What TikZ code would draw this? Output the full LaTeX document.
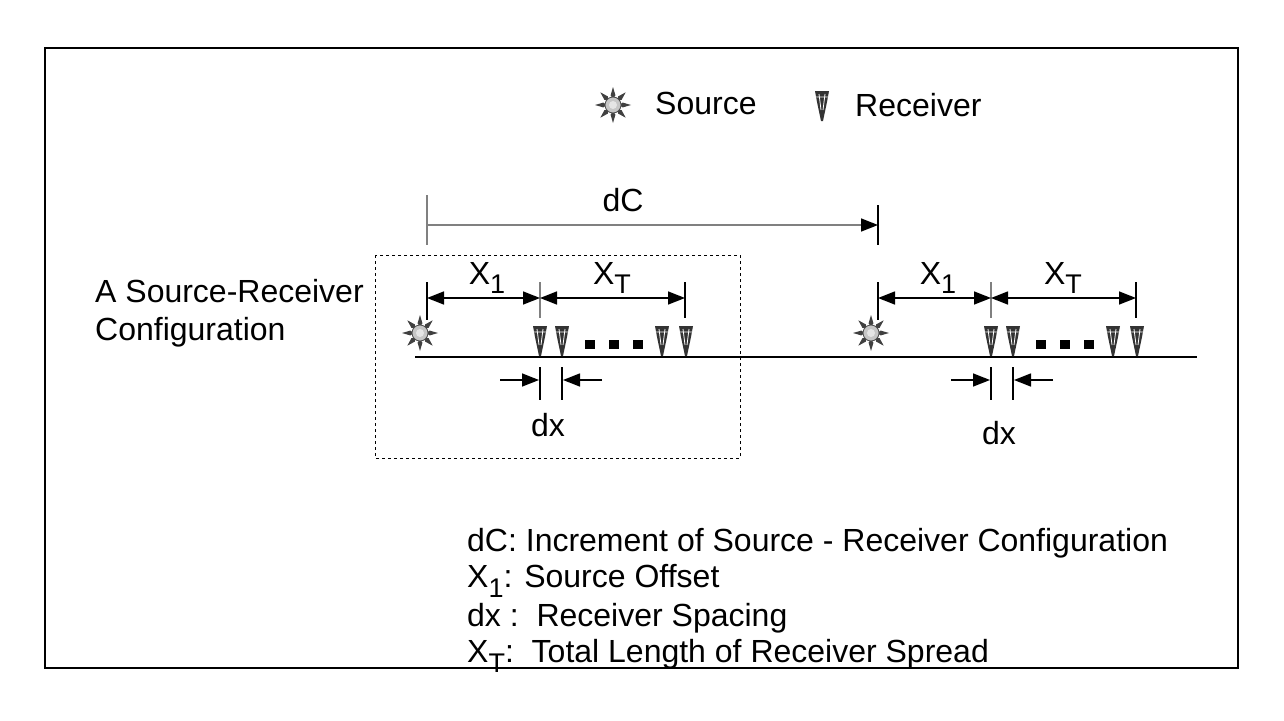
\documentclass[tikz,border=0pt]{standalone}
\usepackage{fontspec}
\setmainfont{Liberation Sans}
\usetikzlibrary{arrows.meta,shapes.geometric}
\newcommand{\sbs}[1]{\raisebox{-0.3em}{\fontsize{27}{30}\selectfont #1}}
\begin{document}
\begin{tikzpicture}[x=1pt,y=-1pt,
  txt/.style={font=\fontsize{32}{38}\selectfont,inner sep=0pt},
  dim/.style={line width=1.5pt,{Triangle[length=17pt,width=13pt]}-{Triangle[length=17pt,width=13pt]}},
  tk/.style={line width=1.2pt},
  src/.pic={
    \foreach \a in {0,45,...,315}{\fill[black!75] (\a:6)--(\a+14:10)--(\a:18)--(\a-14:10)--cycle;}
    \fill[gray!45,draw=black!70,line width=0.8pt] (0,0) circle (8);
    \fill[gray!20] (0,0) circle (4);},
  rcv/.pic={\fill[black!80] (-7,-15)--(7,-15)--(5,-4)--(1,15)--(-1,15)--(-5,-4)--cycle;
    \draw[white,line width=0.8pt] (-3,-12)--(-1,4) (3,-12)--(1,4) (-6,-9)--(6,-9);}
]
\useasboundingbox (0,0) rectangle (1284,720);
\fill[white] (0,0) rectangle (1284,720);
\draw[line width=1.2pt] (45,48) rectangle (1238,668);
% legend
\pic at (613,105) {src};
\node[txt,anchor=west] (ls) at (655,103) {Source};
\pic at (822,106) {rcv};
\node[txt,anchor=west] (lr) at (855,105) {Receiver};
% dC
\coordinate (dcA) at (427,225); \coordinate (dcB) at (878,225);
\draw[tk,gray] (427,195)--(427,245);
\draw[tk] (878,205)--(878,245);
\draw[gray,line width=1.5pt,-{Triangle[length=17pt,width=13pt,black]}] (dcA)--(dcB);
\node[txt] (dc) at (623,200) {dC};
% box
\draw[dashed,line width=1pt] (375,255) rectangle (740,458);
\node[txt,anchor=west,align=left] (cfg) at (95,313) {A Source-Receiver\\Configuration};
% ground
\draw[line width=2.2pt] (415,357)--(1197,357);
\foreach \o/\dxy in {0/425,451/433}{
  \begin{scope}[xshift=\o]
  \pic at (420,333) {src};
  \foreach \r in {540,562,662,686}{\pic at (\r,341) {rcv};}
  \foreach \d in {590,614,638}{\fill (\d-5,340) rectangle (\d+5,349);}
  \draw[tk] (427,282)--(427,320);
  \draw[tk,gray] (540,282)--(540,318);
  \draw[tk] (685,282)--(685,318);
  \coordinate (a) at (427,298); \coordinate (b) at (540,298); \coordinate (c) at (685,298);
  \draw[dim] (a)--(b);
  \draw[dim] (b)--(c);
  \node[txt] at (487,278) {X\sbs{1}};
  \node[txt] at (612,278) {X\sbs{T}};
  \draw[tk] (540,367)--(540,400) (562,367)--(562,400);
  \draw[line width=1.5pt,-{Triangle[length=17pt,width=13pt]}] (500,380)--(539,380);
  \draw[line width=1.5pt,-{Triangle[length=17pt,width=13pt]}] (602,380)--(563,380);
  \node[txt] at (548,\dxy) {dx};
  \end{scope}}
% notes
\node[txt,anchor=west] (n1) at (467,543) {dC: Increment of Source - Receiver Configuration};
\node[txt,anchor=west] (n2) at (467,581) {X\sbs{1}: Source Offset};
\node[txt,anchor=west] (n3) at (467,618) {dx :\ \ Receiver Spacing};
\node[txt,anchor=west] (n4) at (467,656) {X\sbs{T}:\ \ Total Length of Receiver Spread};
\end{tikzpicture}
\end{document}
